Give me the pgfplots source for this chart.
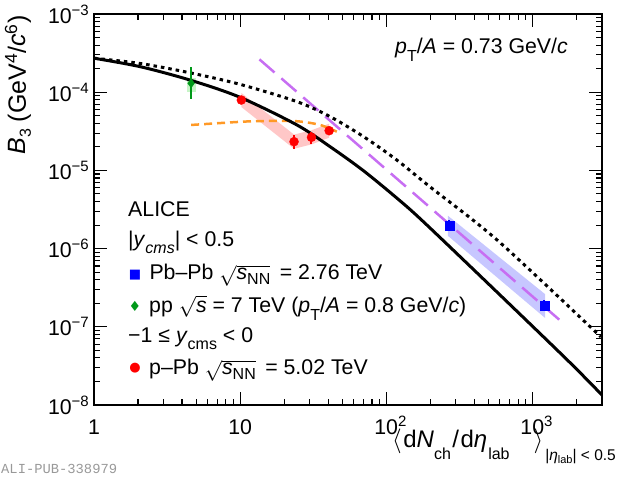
\documentclass[border=0pt]{standalone}
\usepackage{pgfplots}
\pgfplotsset{compat=1.18}
\usepackage{fontspec}
\setmainfont{Liberation Sans}
\newfontfamily\djv{DejaVu Sans}
\newfontfamily\mono{Liberation Mono}
\definecolor{pviolet}{rgb}{0.78,0.43,0.95}
\definecolor{porange}{rgb}{1,0.6,0.15}
\definecolor{pgreen}{rgb}{0,0.6,0.1}
\definecolor{pbband}{rgb}{0.78,0.78,1}
\definecolor{prband}{rgb}{1,0.78,0.78}
\definecolor{pgband}{rgb}{0.78,0.96,0.78}
\newcommand\fs{\fontsize{21.3bp}{25bp}\selectfont}
\newcommand\sups[1]{\raisebox{8bp}{\fontsize{15bp}{15bp}\selectfont #1}}
\newcommand\supv{\raisebox{8bp}{\fontsize{15bp}{15bp}\selectfont\vphantom{2}}}
\newcommand\sub[2][6bp]{\raisebox{-#1}{\fontsize{16bp}{16bp}\selectfont #2}}
\begin{document}
\begin{tikzpicture}[x=1bp,y=1bp]
\path[use as bounding box] (-94,-77) rectangle (526,405);
\begin{axis}[
  at={(0,0)}, anchor=south west,
  scale only axis, width=508bp, height=391bp,
  xmode=log, ymode=log,
  xmin=1, xmax=3000, ymin=1e-8, ymax=1e-3,
  axis line style={line width=1.3bp},
  tick align=inside, tick pos=both,
  major tick length=13bp, minor tick length=6.5bp,
  tick style={line width=1.1bp, black},
  xtick={1,10,100,1000},
  xticklabels={1\supv,10\supv,10\rlap{\sups{2}},10\rlap{\sups{3}}},
  minor xtick={2,3,4,5,6,7,8,9,20,30,40,50,60,70,80,90,200,300,400,500,600,700,800,900,2000,3000},
  ytick={1e-8,1e-7,1e-6,1e-5,1e-4,1e-3},
  yticklabels={10\sups{−8},10\sups{−7},10\sups{−6},10\sups{−5},10\sups{−4},10\sups{−3}},
  minor ytick={2e-8,3e-8,4e-8,5e-8,6e-8,7e-8,8e-8,9e-8,
               2e-7,3e-7,4e-7,5e-7,6e-7,7e-7,8e-7,9e-7,
               2e-6,3e-6,4e-6,5e-6,6e-6,7e-6,8e-6,9e-6,
               2e-5,3e-5,4e-5,5e-5,6e-5,7e-5,8e-5,9e-5,
               2e-4,3e-4,4e-4,5e-4,6e-4,7e-4,8e-4,9e-4},
  tick label style={font=\fs},
  xticklabel style={inner sep=0pt, yshift=-10.5bp},
  yticklabel style={inner sep=0pt, xshift=-5bp},
  error bars/error bar style={line width=2bp},
  error bars/error mark=none,
  clip=true,
]
% systematic bands
\addplot[draw=none, fill=pbband] coordinates {(264,2.64e-6) (1222,2.62e-7) (1222,1.30e-7) (264,1.46e-6)} -- cycle;
\addplot[draw=none, fill=prband] coordinates {(10.2,9.77e-5) (23.4,2.87e-5) (30.8,3.26e-5) (40.7,3.96e-5) (40.7,2.62e-5) (30.8,2.15e-5) (23.4,1.89e-5) (10.2,6.46e-5)} -- cycle;
\addplot[draw=none, fill=pgband] coordinates {(4.33,1.01e-4) (4.98,1.01e-4) (4.98,1.52e-4) (4.33,1.52e-4)} -- cycle;
% models
\addplot[pviolet, line width=2.5bp, dash pattern=on 20bp off 9bp] coordinates {(13.56,2.63e-4) (1614,1.13e-7)};
\addplot[porange, line width=2.5bp, dash pattern=on 8bp off 5bp, smooth] coordinates {(4.62,3.81e-5) (10,4.18e-5) (14.4,4.28e-5) (24.5,4.25e-5) (35.3,3.81e-5) (45.9,3.13e-5)};
\addplot[black, line width=3bp, dash pattern=on 3.5bp off 4bp, smooth] coordinates {(1,2.72e-4) (2.07,2.33e-4) (4.54,1.77e-4) (10,1.26e-4) (24.5,7.57e-5) (41.3,4.87e-5) (69.6,2.72e-5) (118,1.36e-5) (200,6.14e-6) (585,1.25e-6) (2950,7.41e-8)};
\addplot[black, line width=3bp, smooth] coordinates {(1,2.72e-4) (2.07,2.12e-4) (4.54,1.43e-4) (10,8.6e-5) (24.5,3.81e-5) (41.3,2.01e-5) (69.6,9.97e-6) (118,4.44e-6) (176,2.29e-6) (515,3.37e-7) (1738,3.76e-8) (3000,1.34e-8)};
% data
\addplot[pgreen, only marks, mark=diamond*, mark size=4.5bp, mark options={fill=pgreen, draw=pgreen},
  error bars/.cd, y dir=both, y explicit] coordinates {(4.62,1.30e-4) += (0,0.82e-4) -= (0,0.49e-4)};
\addplot[red, only marks, mark=*, mark size=4.5bp, mark options={fill=red, draw=red},
  error bars/.cd, y dir=both, y explicit] coordinates {
  (10.2,7.94e-5) += (0,0.6e-5) -= (0,0.6e-5)
  (23.4,2.33e-5) += (0,0.51e-5) -= (0,0.45e-5)
  (30.8,2.65e-5) += (0,0.48e-5) -= (0,0.47e-5)
  (40.7,3.22e-5) += (0,0.2e-5) -= (0,0.2e-5)};
\addplot[blue, only marks, mark=square*, mark size=4.5bp, mark options={fill=blue, draw=blue},
  error bars/.cd, y dir=both, y explicit] coordinates {
  (270,1.96e-6) += (0,0.35e-6) -= (0,0.3e-6)
  (1208,1.85e-7) += (0,0.32e-7) -= (0,0.27e-7)};
\end{axis}
% axis titles
\node[rotate=90, anchor=base east, font=\fontsize{25bp}{30bp}\selectfont] at (-68,393) {\textit{B}\sub[5bp]{3} (GeV\textsuperscript{4}/\textit{c}\textsuperscript{6})};
\node[anchor=base west, font=\fontsize{24bp}{28bp}\selectfont, inner sep=0pt] at (298,-43) {$\langle$\hspace{1.5bp}d\textit{N}\sub[12bp]{ch}\hspace{1.5bp}/\hspace{1.5bp}d\textit{η}\hspace{1bp}\sub[12bp]{lab}\hspace{24bp}$\rangle$\hspace{2bp}\raisebox{-13bp}{\fontsize{15.5bp}{16bp}\selectfont|\textit{η}\raisebox{-3bp}{\fontsize{11bp}{11bp}\selectfont lab}| < 0.5}};
% annotations
\node[anchor=base west, font=\fs, inner sep=0pt] at (301,351) {\textit{p}\sub[8bp]{T}/\textit{A} = 0.73 GeV/\textit{c}};
\node[anchor=base west, font=\fs, inner sep=0pt] at (34,188.3) {ALICE};
\node[anchor=base west, font=\fs, inner sep=0pt] at (34,158) {|\textit{y}\sub[7bp]{\textit{cms}}| < 0.5};
\node[text=blue, font=\djv\fontsize{13bp}{13bp}\selectfont, inner sep=0pt] at (41,130) {■};
\node[anchor=base west, font=\fs, inner sep=0pt] at (55.3,125) {Pb–Pb $\sqrt{\mbox{\textit{s}\sub[5bp]{NN}}}$ \,= 2.76 TeV};
\node[text=pgreen, font=\djv\fontsize{14bp}{14bp}\selectfont, inner sep=0pt] at (41,98.3) {♦};
\node[anchor=base west, font=\fs, inner sep=0pt] at (55,92) {pp $\sqrt{\mbox{\textit{s}}}$ = 7 TeV (\textit{p}\sub[8bp]{T}/\textit{A} = 0.8 GeV/\textit{c})};
\node[anchor=base west, font=\fs, inner sep=0pt] at (34,62) {−1 ≤ \textit{y}\sub[7bp]{cms} < 0};
\node[text=red, font=\djv\fontsize{13bp}{13bp}\selectfont, inner sep=0pt] at (41,37) {●};
\node[anchor=base west, font=\fs, inner sep=0pt] at (55,30) {p–Pb $\sqrt{\mbox{\textit{s}\sub[5bp]{NN}}}$ \,= 5.02 TeV};
\node[anchor=west, font=\mono\fontsize{13.8bp}{14bp}\selectfont, text=black!40, inner sep=0pt] at (-93,-64) {ALI-PUB-338979};
\end{tikzpicture}
\end{document}
